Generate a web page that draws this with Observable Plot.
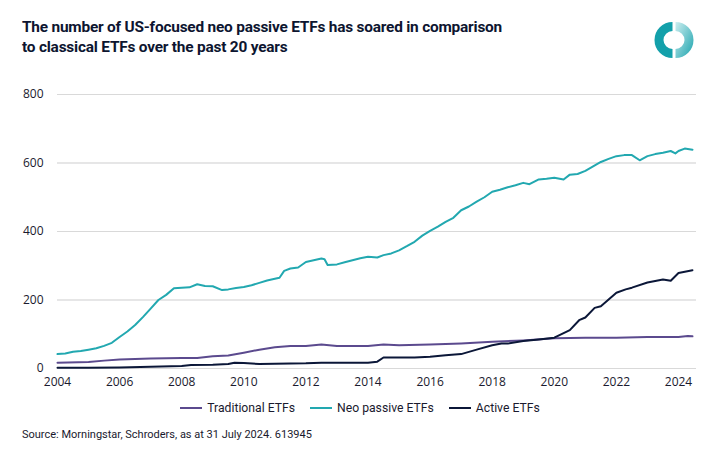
<!DOCTYPE html>
<html>
<head>
<meta charset="utf-8">
<script src="https://cdn.jsdelivr.net/npm/d3@7"></script>
<script src="https://cdn.jsdelivr.net/npm/@observablehq/plot@0.6"></script>
<style>
  html, body { margin: 0; padding: 0; background: #fff; }
  body { width: 720px; height: 463px; position: relative; overflow: hidden; font-family: Roboto, "Noto Sans", sans-serif; }
  #title { position: absolute; left: 22px; top: 17px; font-size: 15.4px; font-weight: 700; line-height: 20px; color: #0d1530; letter-spacing: -0.2px; }
  #logo { position: absolute; left: 652px; top: 18px; }
  #chart { position: absolute; left: 0; top: 80px; }
  #legend { position: absolute; left: 0; top: 401px; width: 720px; display: flex; justify-content: center; gap: 15px; font-size: 12.2px; color: #1a1a2e; }
  #legend .item { display: flex; align-items: center; gap: 5px; }
  #legend .sw { width: 22px; height: 2px; }
  #source { position: absolute; left: 22px; top: 428px; font-size: 11px; color: #1a1a2e; }
</style>
</head>
<body>
<div id="title">The number of US-focused neo passive ETFs has soared in comparison<br>to classical ETFs over the past 20 years</div>
<svg id="logo" width="44" height="44" viewBox="0 0 44 44">
  <defs>
    <linearGradient id="g1" x1="0" y1="0" x2="1" y2="1">
      <stop offset="0" stop-color="#cdeef0"/>
      <stop offset="1" stop-color="#1aa3ad"/>
    </linearGradient>
  </defs>
  <path d="M20.5 4 A18 18 0 0 0 20.5 40 L20.5 31 A9 9 0 0 1 20.5 13 Z" fill="#13a0aa"/>
  <path d="M23.5 4 A18 18 0 0 1 23.5 40 L23.5 31 A9 9 0 0 0 23.5 13 Z" fill="url(#g1)"/>
</svg>
<div id="chart"></div>
<div id="legend"></div>
<div id="source">Source: Morningstar, Schroders, as at 31 July 2024. 613945</div>
<script>
const seriesNames = ["Traditional ETFs", "Neo passive ETFs", "Active ETFs"];
const seriesColors = ["#5b4a8e", "#22a8b0", "#0b1738"];

const neoYears = [2004.0,2004.25,2004.5,2004.75,2005.0,2005.25,2005.5,2005.75,2006.0,2006.25,2006.5,2006.75,2007.0,2007.25,2007.5,2007.75,2008.0,2008.25,2008.5,2008.75,2009.0,2009.3,2009.5,2009.75,2010.0,2010.25,2010.5,2010.75,2011.0,2011.15,2011.3,2011.5,2011.75,2012.0,2012.25,2012.5,2012.6,2012.7,2013.0,2013.25,2013.5,2013.75,2014.0,2014.3,2014.5,2014.75,2015.0,2015.25,2015.5,2015.75,2016.0,2016.25,2016.5,2016.75,2017.0,2017.25,2017.5,2017.75,2018.0,2018.25,2018.5,2018.75,2019.0,2019.2,2019.5,2019.75,2020.0,2020.3,2020.5,2020.75,2021.0,2021.25,2021.5,2021.75,2022.0,2022.25,2022.5,2022.75,2023.0,2023.25,2023.5,2023.75,2023.9,2024.0,2024.2,2024.45];
const neoValues = [42,44,49,51,55,59,66,75,92,108,127,150,175,200,215,234,236,237,246,241,240,229,231,235,238,243,250,257,262,265,285,292,295,311,316,321,319,302,304,310,316,322,326,324,331,336,345,357,370,388,402,414,428,440,462,473,487,500,516,522,529,535,542,538,552,554,557,552,566,568,577,590,603,612,620,623,623,608,620,626,630,635,628,635,642,639];

const tradYears = [2004.0,2005.0,2005.5,2006.0,2007.0,2008.0,2008.5,2009.0,2009.5,2010.0,2010.5,2011.0,2011.5,2012.0,2012.5,2013.0,2013.5,2014.0,2014.5,2015.0,2016.0,2017.0,2018.0,2019.0,2020.0,2021.0,2022.0,2023.0,2024.0,2024.3,2024.45];
const tradValues = [17,19,23,26,29,31,31,36,38,46,55,62,66,66,70,66,66,66,70,68,70,73,78,82,88,90,90,92,92,95,94];

const activeYears = [2004.0,2005.0,2006.0,2007.0,2008.0,2008.3,2009.0,2009.5,2009.7,2010.0,2010.5,2011.0,2012.0,2012.5,2013.0,2013.5,2014.0,2014.3,2014.5,2015.0,2015.5,2016.0,2016.5,2017.0,2017.5,2018.0,2018.3,2018.5,2019.0,2019.5,2020.0,2020.5,2020.8,2021.0,2021.3,2021.5,2022.0,2022.3,2022.5,2023.0,2023.5,2023.75,2024.0,2024.45];
const activeValues = [2,2,3,5,7,10,11,13,17,16,13,14,15,17,17,17,17,20,32,32,32,34,39,42,55,68,73,73,80,85,90,112,141,149,177,182,221,231,236,251,260,256,279,287];

const xTicks = [2004,2006,2008,2010,2012,2014,2016,2018,2020,2022,2024];
const yTicks = [0,200,400,600,800];

const rows = [];
tradYears.forEach((y, i) => rows.push({series: seriesNames[0], year: y, value: tradValues[i]}));
neoYears.forEach((y, i) => rows.push({series: seriesNames[1], year: y, value: neoValues[i]}));
activeYears.forEach((y, i) => rows.push({series: seriesNames[2], year: y, value: activeValues[i]}));

const chart = Plot.plot({
  width: 720,
  height: 320,
  marginLeft: 57,
  marginRight: 24,
  marginTop: 14,
  marginBottom: 32,
  style: {fontFamily: "'Open Sans', 'Noto Sans', sans-serif", fontSize: "12px", color: "#1a1a2e", background: "#fff"},
  x: {domain: [2004, 2024.58], ticks: xTicks, tickFormat: d => String(d), tickSize: 0, tickPadding: 9, label: null},
  y: {domain: [0, 800], ticks: yTicks, tickSize: 0, tickPadding: 14, label: null, grid: true},
  color: {domain: seriesNames, range: seriesColors},
  marks: [
    Plot.gridY(yTicks, {stroke: "#d9d9d9", strokeOpacity: 1, strokeWidth: 1}),
    Plot.axisX({ticks: xTicks, tickFormat: d => String(d), tickSize: 0, tickPadding: 9, fontSize: 12}),
    Plot.axisY({ticks: yTicks, tickSize: 0, tickPadding: 14, fontSize: 12}),
    Plot.line(rows, {x: "year", y: "value", z: "series", stroke: "series", strokeWidth: 2, curve: "linear"})
  ]
});
document.getElementById("chart").appendChild(chart);

const legend = document.getElementById("legend");
seriesNames.forEach((n, i) => {
  const it = document.createElement("div");
  it.className = "item";
  it.innerHTML = `<span class="sw" style="background:${seriesColors[i]}"></span><span>${n}</span>`;
  legend.appendChild(it);
});
</script>
</body>
</html>
